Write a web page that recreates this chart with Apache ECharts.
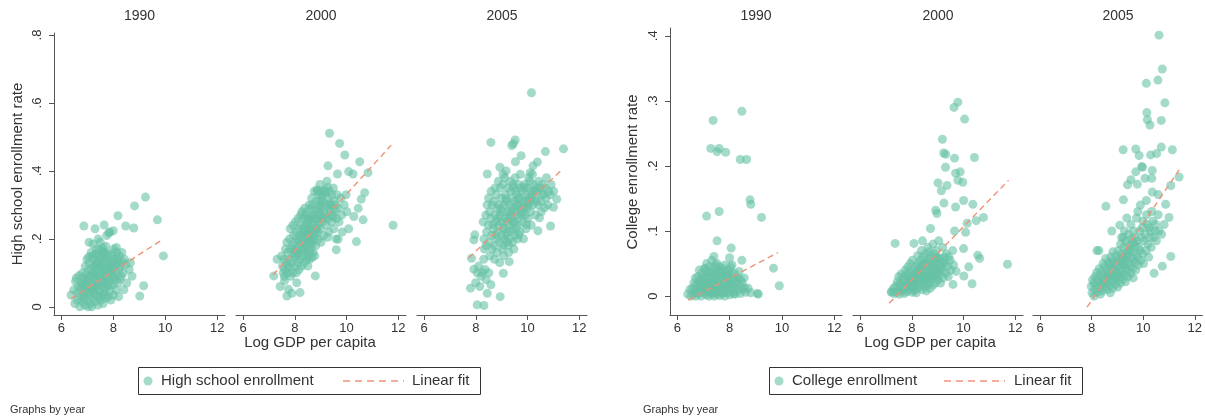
<!DOCTYPE html>
<html><head><meta charset="utf-8">
<script src="https://cdn.jsdelivr.net/npm/echarts@6/dist/echarts.min.js"></script>
<style>html,body{margin:0;padding:0;background:#fff}#c{width:1205px;height:419px}</style>
</head><body><div id="c"></div>
<script>
const years = ['1990','2000','2005'];
const xTicks = [6,8,10,12];
const hsYTicks = [0,0.2,0.4,0.6,0.8];
const colYTicks = [0,0.1,0.2,0.3,0.4];
const hsLabel = 'High school enrollment';
const colLabel = 'College enrollment';
const fitLabel = 'Linear fit';
const xName = 'Log GDP per capita';
const hsYName = 'High school enrollment rate';
const colYName = 'College enrollment rate';
const noteText = 'Graphs by year';

const hs1990 = [[9.24,0.323],[8.82,0.297],[9.70,0.256],[8.18,0.268],[8.48,0.238],[8.79,0.232],[6.87,0.238],[7.30,0.230],[7.65,0.241],[7.83,0.218],[8.00,0.224],[9.93,0.150],[9.17,0.062],[9.02,0.032],[7.07,0.190],[7.42,0.200],
[6.38,0.035],[6.52,0.010],[6.48,0.050],[6.55,0.075],[6.61,0.020],[6.63,0.042],[6.58,0.085],[6.66,0.060],[6.72,0.000],[6.70,0.030],[6.74,0.055],[6.69,0.092],[6.77,0.070],[6.81,0.015],[6.83,0.040],[6.79,0.065],[6.85,0.085],[6.82,0.100],[6.91,0.005],[6.88,0.030],[6.93,0.050],[6.90,0.075],[6.95,0.095],[6.92,0.120],[7.02,0.020],[6.98,0.045],[7.04,0.060],[7.01,0.080],[7.06,0.110],[6.99,0.140],[7.03,0.000],[7.12,0.010],[7.09,0.035],[7.14,0.055],[7.11,0.070],[7.13,0.090],[7.08,0.130],[7.15,0.160],[7.21,0.025],[7.18,0.050],[7.23,0.065],[7.20,0.100],[7.24,0.120],[7.19,0.150],[7.22,0.185],[7.17,0.000],[7.31,0.015],[7.28,0.040],[7.33,0.060],[7.29,0.080],[7.34,0.105],[7.32,0.125],[7.27,0.140],[7.35,0.170],[7.41,0.005],[7.38,0.030],[7.43,0.050],[7.39,0.070],[7.44,0.090],[7.40,0.110],[7.42,0.135],[7.37,0.155],[7.52,0.020],[7.48,0.045],[7.53,0.065],[7.49,0.085],[7.54,0.100],[7.51,0.120],[7.47,0.145],[7.55,0.165],[7.50,0.190],[7.61,0.010],[7.58,0.035],[7.63,0.060],[7.59,0.080],[7.64,0.095],[7.62,0.115],[7.57,0.130],[7.65,0.150],[7.60,0.175],[7.71,0.025],[7.68,0.050],[7.73,0.070],[7.69,0.090],[7.74,0.110],[7.72,0.140],[7.67,0.160],[7.75,0.210],[7.81,0.030],[7.78,0.060],[7.83,0.075],[7.79,0.100],[7.84,0.120],[7.82,0.135],[7.77,0.155],[7.91,0.020],[7.88,0.045],[7.93,0.085],[7.89,0.105],[7.94,0.130],[7.92,0.150],[7.87,0.220],[8.01,0.035],[7.98,0.065],[8.03,0.090],[7.99,0.115],[8.04,0.140],[8.02,0.170],[8.11,0.050],[8.08,0.080],[8.13,0.100],[8.09,0.125],[8.14,0.160],[8.12,0.175],[8.21,0.030],[8.18,0.070],[8.23,0.110],[8.19,0.135],[8.24,0.150],[8.31,0.090],[8.28,0.120],[8.33,0.160],[8.41,0.050],[8.38,0.100],[8.43,0.140],[8.52,0.070],[8.48,0.125],[8.61,0.110],[8.72,0.090],[8.66,0.130],
[6.96,0.062],[7.06,0.087],[7.16,0.112],[7.26,0.095],[7.36,0.082],[7.46,0.118],[7.56,0.072],[7.66,0.105],[7.76,0.088],[7.86,0.064],[7.96,0.098],[7.26,0.052],[7.46,0.028],[7.66,0.038],[7.36,0.128],[7.56,0.142],[7.76,0.128],[7.86,0.112],[8.06,0.118],[8.16,0.142],[7.16,0.042],[6.86,0.022],[7.06,0.147],[7.46,0.168],[7.96,0.158],[8.26,0.082],[8.36,0.132],[7.62,0.162],[7.32,0.155],[7.72,0.178]];

const hs2000 = [[9.34,0.511],[9.73,0.481],[9.93,0.447],[10.51,0.427],[9.28,0.415],[10.83,0.395],[10.08,0.398],[10.25,0.391],[9.65,0.391],[10.70,0.336],[10.57,0.317],[10.45,0.290],[10.64,0.256],[10.28,0.266],[11.80,0.240],[10.08,0.230],[10.38,0.192],[9.67,0.199],[9.60,0.168],[8.79,0.091],[7.31,0.140],[7.18,0.091],[7.43,0.060],[7.69,0.032],[7.88,0.040],[8.20,0.042],[7.75,0.052],[8.07,0.071],[7.60,0.077],
[7.52,0.120],[7.48,0.150],[7.55,0.100],[7.61,0.110],[7.58,0.140],[7.63,0.170],[7.59,0.090],[7.71,0.100],[7.68,0.130],[7.73,0.160],[7.69,0.190],[7.74,0.120],[7.81,0.115],[7.78,0.140],[7.83,0.170],[7.79,0.200],[7.84,0.090],[7.82,0.230],[7.91,0.100],[7.88,0.130],[7.93,0.155],[7.89,0.180],[7.94,0.210],[7.92,0.240],[8.01,0.120],[7.98,0.145],[8.03,0.165],[7.99,0.190],[8.04,0.220],[8.02,0.250],[8.06,0.100],[8.11,0.130],[8.08,0.150],[8.13,0.175],[8.09,0.200],[8.14,0.230],[8.12,0.260],[8.16,0.110],[8.21,0.140],[8.18,0.160],[8.23,0.185],[8.19,0.210],[8.24,0.240],[8.22,0.270],[8.26,0.120],[8.31,0.150],[8.28,0.170],[8.33,0.190],[8.29,0.215],[8.34,0.235],[8.32,0.260],[8.27,0.280],[8.36,0.130],[8.41,0.160],[8.38,0.180],[8.43,0.200],[8.39,0.220],[8.44,0.245],[8.42,0.270],[8.37,0.290],[8.46,0.140],[8.51,0.150],[8.48,0.175],[8.53,0.195],[8.49,0.215],[8.54,0.230],[8.52,0.255],[8.47,0.280],[8.55,0.300],[8.50,0.120],[8.61,0.170],[8.58,0.190],[8.63,0.210],[8.59,0.235],[8.64,0.260],[8.62,0.290],[8.57,0.140],[8.65,0.320],[8.71,0.160],[8.68,0.185],[8.73,0.200],[8.69,0.225],[8.74,0.250],[8.72,0.270],[8.67,0.300],[8.75,0.340],[8.81,0.180],[8.78,0.210],[8.83,0.230],[8.79,0.260],[8.84,0.280],[8.82,0.310],[8.77,0.150],[8.91,0.200],[8.88,0.220],[8.93,0.245],[8.89,0.270],[8.94,0.300],[8.92,0.330],[8.87,0.340],[9.01,0.190],[8.98,0.230],[9.03,0.260],[8.99,0.290],[9.04,0.320],[9.02,0.340],[8.97,0.360],[9.11,0.210],[9.08,0.250],[9.13,0.280],[9.09,0.310],[9.14,0.340],[9.21,0.240],[9.18,0.270],[9.23,0.300],[9.19,0.335],[9.24,0.370],[9.31,0.220],[9.28,0.260],[9.33,0.290],[9.29,0.320],[9.34,0.340],[9.41,0.250],[9.38,0.280],[9.43,0.330],[9.39,0.300],[9.51,0.230],[9.48,0.270],[9.53,0.310],[9.49,0.350],[9.61,0.260],[9.58,0.300],[9.63,0.330],[9.59,0.200],[9.71,0.250],[9.68,0.290],[9.81,0.270],[9.78,0.320],[9.83,0.220],[9.91,0.300],[10.01,0.280],[9.98,0.330],
[8.26,0.205],[8.36,0.228],[8.46,0.188],[8.56,0.265],[8.66,0.238],[8.76,0.218],[8.86,0.258],[8.96,0.275],[9.06,0.298],[8.46,0.258],[8.56,0.212],[8.66,0.192],[8.76,0.285],[8.86,0.232],[8.96,0.312],[9.06,0.328],[9.16,0.345],[9.26,0.352],[8.36,0.168],[8.16,0.192],[8.06,0.158],[7.96,0.168],[8.86,0.345],[9.16,0.262],[9.36,0.305],[8.56,0.162],[8.66,0.145],[9.46,0.265],[9.56,0.285],[9.26,0.205]];

const hs2005 = [[10.15,0.630],[8.58,0.484],[9.52,0.491],[9.39,0.475],[9.45,0.480],[11.39,0.465],[10.69,0.457],[9.75,0.445],[9.53,0.427],[8.93,0.411],[10.38,0.426],[10.21,0.415],[8.44,0.391],[9.05,0.390],[10.10,0.395],
[8.05,0.006],[8.31,0.004],[7.79,0.055],[7.99,0.071],[8.44,0.040],[8.94,0.030],[8.58,0.065],[7.92,0.111],[8.25,0.101],[7.83,0.143],[7.92,0.197],[7.96,0.212],[9.06,0.099],[9.29,0.133],[10.89,0.238],[10.40,0.224],[11.00,0.293],[11.13,0.317],
[8.10,0.120],[8.20,0.090],[8.15,0.060],[8.35,0.110],[8.40,0.080],[8.05,0.100],[8.30,0.140],[8.50,0.100],
[8.31,0.200],[8.28,0.250],[8.33,0.170],[8.41,0.220],[8.38,0.270],[8.43,0.300],[8.39,0.180],[8.51,0.190],[8.48,0.240],[8.53,0.280],[8.49,0.320],[8.54,0.150],[8.61,0.210],[8.58,0.260],[8.63,0.300],[8.59,0.340],[8.64,0.170],[8.71,0.180],[8.68,0.230],[8.73,0.270],[8.69,0.310],[8.74,0.350],[8.72,0.140],[8.81,0.200],[8.78,0.250],[8.83,0.290],[8.79,0.330],[8.84,0.220],[8.82,0.160],[8.91,0.190],[8.88,0.240],[8.93,0.270],[8.89,0.300],[8.94,0.350],[8.92,0.130],[8.87,0.370],[9.01,0.210],[8.98,0.250],[9.03,0.280],[8.99,0.320],[9.04,0.360],[9.02,0.170],[9.11,0.200],[9.08,0.230],[9.13,0.260],[9.09,0.300],[9.14,0.330],[9.12,0.380],[9.07,0.150],[9.21,0.220],[9.18,0.250],[9.23,0.280],[9.19,0.310],[9.24,0.350],[9.22,0.190],[9.17,0.400],[9.31,0.200],[9.28,0.240],[9.33,0.270],[9.29,0.300],[9.34,0.340],[9.32,0.370],[9.27,0.160],[9.41,0.230],[9.38,0.260],[9.43,0.290],[9.39,0.320],[9.44,0.360],[9.42,0.190],[9.51,0.210],[9.48,0.250],[9.53,0.280],[9.49,0.310],[9.54,0.340],[9.52,0.380],[9.47,0.170],[9.61,0.240],[9.58,0.270],[9.63,0.300],[9.59,0.330],[9.64,0.360],[9.62,0.200],[9.71,0.220],[9.68,0.260],[9.73,0.290],[9.69,0.320],[9.74,0.350],[9.72,0.390],[9.81,0.250],[9.78,0.280],[9.83,0.310],[9.79,0.340],[9.84,0.200],[9.91,0.270],[9.88,0.300],[9.93,0.330],[9.89,0.360],[9.94,0.230],[10.01,0.260],[9.98,0.290],[10.03,0.320],[9.99,0.350],[10.04,0.380],[10.11,0.280],[10.08,0.310],[10.13,0.340],[10.09,0.370],[10.14,0.240],[10.21,0.300],[10.18,0.330],[10.23,0.360],[10.19,0.390],[10.31,0.270],[10.28,0.320],[10.33,0.350],[10.41,0.300],[10.38,0.340],[10.43,0.370],[10.51,0.310],[10.48,0.350],[10.53,0.280],[10.61,0.330],[10.58,0.360],[10.71,0.320],[10.68,0.350],[10.73,0.380],[10.81,0.340],[10.78,0.300],[10.91,0.360],[10.88,0.330],[11.01,0.340],
[8.86,0.262],[8.96,0.288],[9.06,0.232],[9.16,0.318],[9.26,0.262],[9.36,0.282],[9.46,0.248],[9.56,0.298],[9.66,0.318],[9.76,0.272],[9.86,0.292],[9.96,0.312],[10.06,0.302],[10.16,0.322],[10.26,0.342],[9.36,0.222],[9.56,0.232],[9.16,0.212],[8.76,0.212],[8.66,0.242],[9.46,0.352],[9.86,0.352],[10.36,0.312],[10.56,0.332],[9.26,0.182],[9.06,0.182],[10.46,0.262],[10.66,0.292],[9.96,0.242],[9.66,0.212]];

const col1990 = [[8.47,0.284],[7.37,0.270],[7.28,0.227],[7.60,0.227],[7.52,0.222],[7.85,0.221],[8.41,0.210],[8.65,0.210],[8.78,0.148],[8.81,0.141],[7.60,0.130],[7.12,0.123],[9.22,0.121],[7.52,0.085],[8.06,0.074],[7.40,0.061],[8.00,0.059],[8.47,0.055],[9.68,0.043],[9.90,0.016],[9.06,0.004],[9.10,0.003],[7.06,0.042],[6.40,0.003],
[6.52,0.000],[6.48,0.010],[6.61,0.003],[6.58,0.012],[6.63,0.020],[6.71,0.000],[6.68,0.008],[6.73,0.018],[6.69,0.028],[6.81,0.004],[6.78,0.012],[6.83,0.022],[6.79,0.030],[6.84,0.040],[6.91,0.000],[6.88,0.010],[6.93,0.016],[6.89,0.025],[6.94,0.035],[7.01,0.005],[6.98,0.012],[7.03,0.020],[6.99,0.030],[7.04,0.042],[7.11,0.002],[7.08,0.009],[7.13,0.018],[7.09,0.026],[7.14,0.038],[7.12,0.050],[7.21,0.000],[7.18,0.006],[7.23,0.014],[7.19,0.022],[7.24,0.032],[7.22,0.045],[7.31,0.004],[7.28,0.011],[7.33,0.019],[7.29,0.028],[7.34,0.036],[7.32,0.055],[7.41,0.000],[7.38,0.008],[7.43,0.016],[7.39,0.024],[7.44,0.033],[7.42,0.044],[7.51,0.003],[7.48,0.010],[7.53,0.020],[7.49,0.030],[7.54,0.040],[7.52,0.050],[7.61,0.001],[7.58,0.007],[7.63,0.015],[7.59,0.025],[7.64,0.035],[7.62,0.045],[7.71,0.004],[7.68,0.012],[7.73,0.020],[7.69,0.030],[7.74,0.042],[7.81,0.000],[7.78,0.009],[7.83,0.018],[7.79,0.027],[7.84,0.038],[7.82,0.048],[7.91,0.005],[7.88,0.014],[7.93,0.023],[7.89,0.033],[8.01,0.002],[7.98,0.011],[8.03,0.020],[7.99,0.030],[8.04,0.045],[8.11,0.007],[8.08,0.016],[8.13,0.026],[8.09,0.048],[8.21,0.003],[8.18,0.013],[8.23,0.022],[8.19,0.035],[8.31,0.009],[8.28,0.018],[8.33,0.028],[8.41,0.004],[8.38,0.015],[8.43,0.025],[8.51,0.010],[8.48,0.020],[8.61,0.006],[8.58,0.013],[8.71,0.012],[8.81,0.005],
[6.76,0.005],[6.96,0.020],[7.16,0.010],[7.36,0.005],[7.56,0.015],[7.76,0.006],[7.96,0.018],[8.16,0.004],[7.26,0.038],[7.46,0.028],[7.66,0.038],[7.86,0.030],[8.06,0.035],[8.26,0.028],[7.06,0.028],[6.86,0.015],[7.46,0.048],[7.96,0.040],[8.36,0.038],[8.56,0.028]];

const col2000 = [[9.78,0.298],[9.63,0.290],[10.04,0.272],[9.18,0.241],[9.23,0.220],[9.31,0.218],[10.42,0.213],[9.65,0.212],[9.30,0.198],[9.87,0.191],[9.69,0.189],[9.78,0.178],[9.97,0.175],[9.01,0.174],[9.36,0.170],[9.14,0.162],[10.00,0.147],[10.36,0.141],[9.69,0.137],[9.24,0.143],[8.92,0.132],[8.97,0.127],[10.49,0.116],[10.77,0.121],[10.14,0.112],[9.65,0.100],[10.08,0.098],[10.00,0.073],[10.55,0.063],[10.62,0.058],[10.20,0.045],[11.70,0.049],[10.01,0.031],[10.33,0.019],[9.59,0.018],[7.35,0.081],[8.08,0.081],[8.41,0.085],[8.72,0.104],[7.22,0.007],[7.20,0.006],
[7.31,0.004],[7.28,0.012],[7.41,0.006],[7.38,0.015],[7.43,0.022],[7.51,0.003],[7.48,0.010],[7.53,0.020],[7.49,0.030],[7.61,0.008],[7.58,0.016],[7.63,0.025],[7.59,0.034],[7.71,0.004],[7.68,0.012],[7.73,0.020],[7.69,0.030],[7.74,0.040],[7.81,0.007],[7.78,0.015],[7.83,0.024],[7.79,0.033],[7.84,0.045],[7.91,0.010],[7.88,0.018],[7.93,0.027],[7.89,0.037],[7.94,0.050],[8.01,0.006],[7.98,0.014],[8.03,0.022],[7.99,0.030],[8.04,0.040],[8.02,0.055],[8.11,0.009],[8.08,0.017],[8.13,0.026],[8.09,0.035],[8.14,0.046],[8.21,0.012],[8.18,0.020],[8.23,0.028],[8.19,0.038],[8.24,0.050],[8.22,0.062],[8.17,0.005],[8.31,0.015],[8.28,0.024],[8.33,0.032],[8.29,0.042],[8.34,0.055],[8.41,0.010],[8.38,0.019],[8.43,0.028],[8.39,0.037],[8.44,0.047],[8.42,0.060],[8.37,0.070],[8.51,0.014],[8.48,0.022],[8.53,0.031],[8.49,0.040],[8.54,0.050],[8.52,0.065],[8.61,0.018],[8.58,0.026],[8.63,0.035],[8.59,0.045],[8.64,0.056],[8.62,0.075],[8.71,0.012],[8.68,0.022],[8.73,0.030],[8.69,0.040],[8.74,0.050],[8.72,0.062],[8.81,0.017],[8.78,0.027],[8.83,0.036],[8.79,0.046],[8.84,0.058],[8.82,0.080],[8.91,0.020],[8.88,0.032],[8.93,0.042],[8.89,0.052],[8.94,0.070],[9.01,0.025],[8.98,0.037],[9.03,0.048],[8.99,0.060],[9.04,0.085],[9.11,0.020],[9.08,0.033],[9.13,0.045],[9.09,0.058],[9.21,0.028],[9.18,0.040],[9.23,0.053],[9.19,0.075],[9.31,0.035],[9.28,0.050],[9.33,0.065],[9.41,0.030],[9.38,0.045],[9.43,0.060],[9.51,0.040],[9.48,0.055],[9.61,0.048],[9.58,0.070],[9.71,0.038],
[8.26,0.035],[8.36,0.045],[8.46,0.025],[8.56,0.052],[8.66,0.030],[8.76,0.035],[8.86,0.045],[8.96,0.058],[9.06,0.040],[9.16,0.050],[8.16,0.028],[8.06,0.015],[7.96,0.022],[8.46,0.050],[8.66,0.068],[8.86,0.065],[9.26,0.060],[7.86,0.028],[8.56,0.008],[8.96,0.030]];

const col2005 = [[10.61,0.401],[10.74,0.349],[10.57,0.332],[10.12,0.327],[10.84,0.297],[10.14,0.282],[10.16,0.271],[10.26,0.263],[10.70,0.270],[9.22,0.225],[9.71,0.226],[9.84,0.216],[10.29,0.217],[10.52,0.219],[10.70,0.229],[11.13,0.225],[9.94,0.199],[9.97,0.198],[9.71,0.191],[10.35,0.193],[10.07,0.181],[10.33,0.181],[9.52,0.179],[9.39,0.171],[9.77,0.172],[11.39,0.183],[11.07,0.170],[10.35,0.160],[10.58,0.156],[9.23,0.148],[8.55,0.138],[10.12,0.147],[10.87,0.141],[11.00,0.121],[8.78,0.100],[9.09,0.109],[11.07,0.061],[10.74,0.046],[10.42,0.035],[8.20,0.070],[8.28,0.070],
[8.01,0.005],[7.98,0.015],[8.03,0.025],[8.11,0.010],[8.08,0.020],[8.13,0.030],[8.09,0.000],[8.21,0.006],[8.18,0.016],[8.23,0.026],[8.19,0.036],[8.31,0.012],[8.28,0.022],[8.33,0.032],[8.29,0.042],[8.34,0.003],[8.41,0.008],[8.38,0.018],[8.43,0.028],[8.39,0.038],[8.44,0.050],[8.51,0.014],[8.48,0.024],[8.53,0.034],[8.49,0.045],[8.54,0.058],[8.61,0.010],[8.58,0.020],[8.63,0.030],[8.59,0.040],[8.64,0.052],[8.71,0.016],[8.68,0.026],[8.73,0.036],[8.69,0.047],[8.74,0.060],[8.72,0.005],[8.81,0.012],[8.78,0.022],[8.83,0.032],[8.79,0.042],[8.84,0.055],[8.82,0.068],[8.91,0.018],[8.88,0.028],[8.93,0.038],[8.89,0.050],[8.94,0.062],[9.01,0.014],[8.98,0.024],[9.03,0.034],[8.99,0.045],[9.04,0.057],[9.02,0.070],[9.11,0.020],[9.08,0.030],[9.13,0.040],[9.09,0.052],[9.14,0.065],[9.12,0.080],[9.21,0.026],[9.18,0.036],[9.23,0.047],[9.19,0.060],[9.24,0.075],[9.22,0.090],[9.31,0.022],[9.28,0.032],[9.33,0.043],[9.29,0.055],[9.34,0.068],[9.32,0.085],[9.27,0.100],[9.41,0.030],[9.38,0.040],[9.43,0.050],[9.39,0.063],[9.44,0.078],[9.42,0.095],[9.51,0.035],[9.48,0.046],[9.53,0.058],[9.49,0.072],[9.54,0.088],[9.52,0.110],[9.61,0.028],[9.58,0.042],[9.63,0.055],[9.59,0.068],[9.64,0.082],[9.62,0.100],[9.71,0.040],[9.68,0.052],[9.73,0.065],[9.69,0.078],[9.74,0.120],[9.81,0.048],[9.78,0.060],[9.83,0.075],[9.79,0.130],[9.91,0.055],[9.88,0.070],[9.93,0.090],[9.89,0.140],[10.01,0.050],[9.98,0.065],[10.03,0.085],[9.99,0.115],[10.11,0.070],[10.08,0.095],[10.13,0.125],[10.21,0.060],[10.18,0.080],[10.23,0.105],[10.31,0.075],[10.28,0.100],[10.33,0.130],[10.41,0.090],[10.38,0.115],[10.51,0.085],[10.48,0.110],[10.61,0.100],[10.58,0.125],[10.71,0.095],[10.81,0.110],
[8.66,0.030],[8.86,0.040],[9.06,0.048],[9.26,0.050],[9.46,0.070],[9.66,0.090],[9.86,0.100],[8.96,0.030],[9.16,0.058],[9.36,0.060],[9.56,0.080],[9.76,0.085],[8.46,0.020],[8.76,0.050],[9.96,0.105],[10.16,0.110],[10.26,0.090],[10.46,0.100],[9.16,0.090],[9.36,0.120]];

const hsFit1990 = [[6.38,0.024],[9.93,0.200]];
const hsFit2000 = [[7.15,0.094],[11.73,0.476]];
const hsFit2005 = [[7.72,0.144],[11.28,0.400]];
const colFit1990 = [[6.42,-0.006],[9.85,0.067]];
const colFit2000 = [[7.12,-0.011],[11.74,0.178]];
const colFit2005 = [[7.82,-0.017],[11.39,0.194]];

const FONT = '"Liberation Sans", Arial, sans-serif';
const TXT = '#333';
const AX = '#555';
const PT = '#66c2a5';
const FIT = '#ef9278';

const scatterSets = [hs1990, hs2000, hs2005, col1990, col2000, col2005];
const fitSets = [hsFit1990, hsFit2000, hsFit2005, colFit1990, colFit2000, colFit2005];
const gridLefts = [54, 236, 417, 670, 853, 1033];
const gridWidths = [171, 170, 170, 172, 170, 170];

const grids = [], xAxes = [], yAxes = [], series = [];
for (let i = 0; i < 6; i++) {
  const right = i >= 3;
  const top = right ? 28 : 33;
  grids.push({left: gridLefts[i], top: top, width: gridWidths[i], height: 315 - top, containLabel: false});
  xAxes.push({
    type: 'value', gridIndex: i, min: 5.72, max: 12.3,
    axisLine: {show: true, onZero: false, lineStyle: {color: AX, width: 1}},
    axisTick: {show: true, length: 5, customValues: xTicks, lineStyle: {color: AX}},
    axisLabel: {customValues: xTicks, fontSize: 13, color: TXT, margin: 7, fontFamily: FONT},
    splitLine: {show: false}
  });
  const ticks = right ? colYTicks : hsYTicks;
  const first = (i === 0 || i === 3);
  yAxes.push({
    type: 'value', gridIndex: i,
    min: right ? -0.029 : -0.024, max: right ? 0.412 : 0.806,
    show: first,
    axisLine: {show: true, onZero: false, lineStyle: {color: AX, width: 1}},
    axisTick: {show: true, length: 5, customValues: ticks, lineStyle: {color: AX}},
    axisLabel: {customValues: ticks, fontSize: 13, color: TXT, margin: 10, rotate: 90, fontFamily: FONT,
      formatter: v => v === 0 ? '0' : String(+v.toFixed(2)).replace(/^0/, '')},
    splitLine: {show: false}
  });
  series.push({
    type: 'scatter', xAxisIndex: i, yAxisIndex: i, data: scatterSets[i],
    symbol: 'circle', symbolSize: 9, itemStyle: {color: PT, opacity: 0.6}, silent: true, z: 2
  });
  series.push({
    type: 'line', xAxisIndex: i, yAxisIndex: i, data: fitSets[i], showSymbol: false,
    lineStyle: {color: FIT, width: 1.4, type: [6, 4]}, silent: true, z: 3
  });
}

const graphics = [];
function txt(x, y, text, size, align, rot) {
  graphics.push({type: 'text', x: x, y: y, rotation: rot || 0, silent: true,
    style: {text: text, fill: TXT, font: size + 'px ' + FONT, align: align, verticalAlign: 'middle'}});
}
const titleX = gridLefts.map((l, i) => l + gridWidths[i] / 2);
for (let i = 0; i < 6; i++) txt(titleX[i], 16, years[i % 3], 14, 'center');
txt(310, 343, xName, 15, 'center');
txt(930, 343, xName, 15, 'center');
txt(18, 174, hsYName, 15, 'center', Math.PI / 2);
txt(633, 172, colYName, 15, 'center', Math.PI / 2);
txt(10, 410, noteText, 11, 'left');
txt(643, 410, noteText, 11, 'left');

function legend(x0, w, label, lineX0, fitX) {
  graphics.push({type: 'rect', silent: true, shape: {x: x0 + 0.5, y: 367.5, width: w, height: 27},
    style: {fill: '#fff', stroke: '#333', lineWidth: 1}});
  graphics.push({type: 'circle', silent: true, shape: {cx: x0 + 10, cy: 381, r: 4.5}, style: {fill: PT, opacity: 0.6}});
  txt(x0 + 23, 381, label, 15, 'left');
  graphics.push({type: 'line', silent: true, shape: {x1: lineX0, y1: 381, x2: lineX0 + 61, y2: 381},
    style: {stroke: FIT, lineWidth: 1.4, lineDash: [7, 5]}});
  txt(fitX, 381, fitLabel, 15, 'left');
}
legend(138, 342, hsLabel, 343, 412);
legend(769, 313, colLabel, 944, 1014);

const chart = echarts.init(document.getElementById('c'), null, {renderer: 'canvas'});
chart.setOption({
  animation: false,
  backgroundColor: '#fff',
  grid: grids, xAxis: xAxes, yAxis: yAxes, series: series,
  graphic: graphics
});
</script></body></html>
